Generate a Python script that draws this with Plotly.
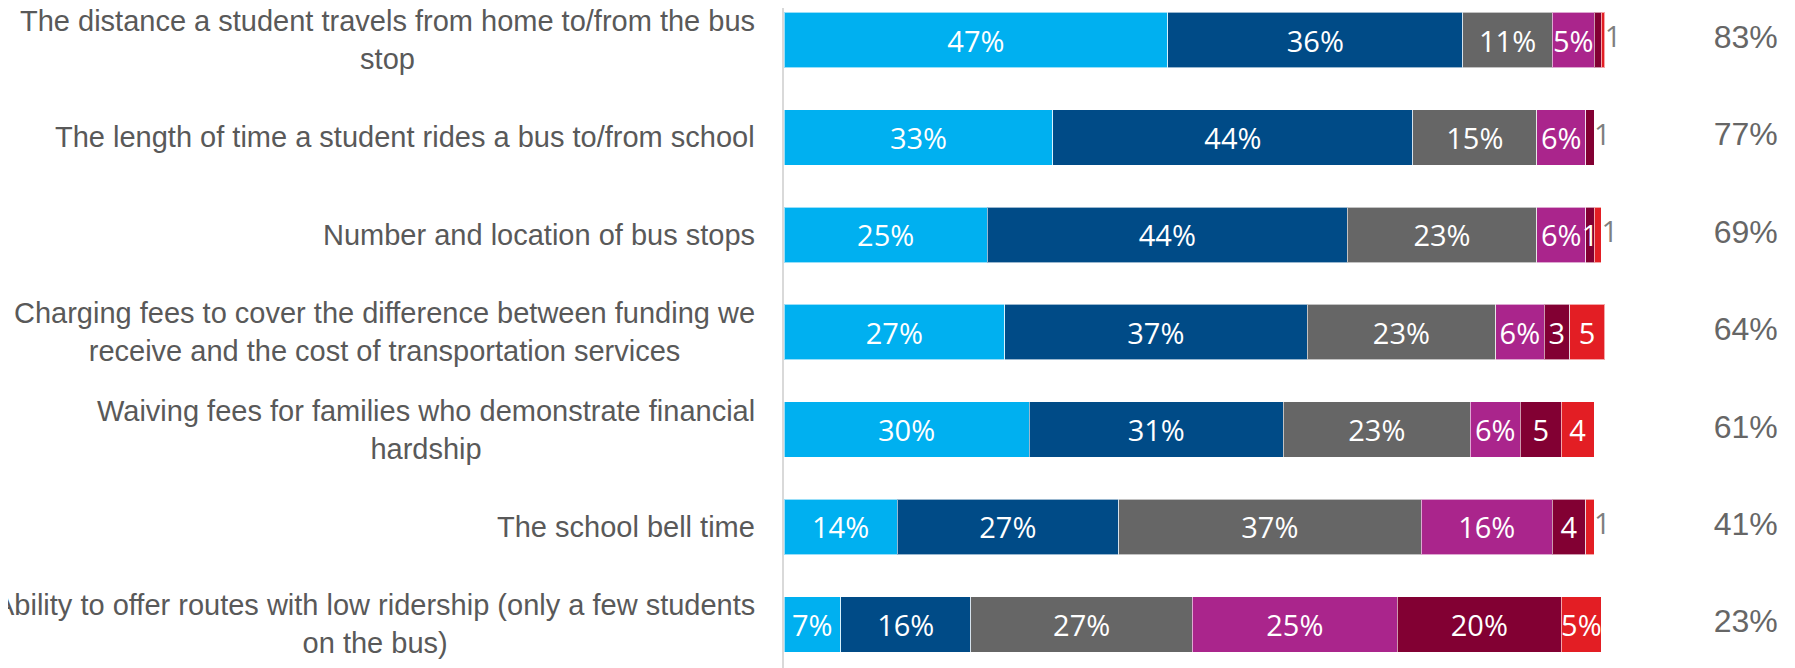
import plotly.graph_objects as go

# ── Data ──────────────────────────────────────────────────────────────────────
categories = [
    "The distance a student travels from home to/from the bus<br>stop",
    "The length of time a student rides a bus to/from school",
    "Number and location of bus stops",
    "Charging fees to cover the difference between funding we<br>receive and the cost of transportation services",
    "Waiving fees for families who demonstrate financial<br>hardship",
    "The school bell time",
    "Ability to offer routes with low ridership (only a few students<br>on the bus)",
]

seg_1 = [46.8, 32.8, 24.8, 26.9, 29.9, 13.8, 6.9]
seg_2 = [36.0, 43.9, 43.9, 36.9, 31.0, 27.0, 15.9]
seg_3 = [10.9, 15.1, 23.1, 23.0, 22.8, 36.9, 27.0]
seg_4 = [5.1, 6.0, 6.0, 5.9, 6.1, 16.0, 25.0]
seg_5 = [0.9, 1.0, 1.0, 3.1, 5.0, 4.1, 20.0]
seg_6 = [0.4, 0.0, 0.9, 4.3, 4.0, 1.0, 4.9]

lbl_1 = ["47%", "33%", "25%", "27%", "30%", "14%", "7%"]
lbl_2 = ["36%", "44%", "44%", "37%", "31%", "27%", "16%"]
lbl_3 = ["11%", "15%", "23%", "23%", "23%", "37%", "27%"]
lbl_4 = ["5%", "6%", "6%", "6%", "6%", "16%", "25%"]
lbl_5 = ["", "", "1", "3", "5", "4", "20%"]
lbl_6 = ["", "", "", "5", "4", "", "5%"]
outside_lbl = ["1", "1", "1", "", "", "1", ""]

totals = ["83%", "77%", "69%", "64%", "61%", "41%", "23%"]

colors = ["#00B0F0", "#004B87", "#666666", "#AA258C", "#820033", "#E31E24"]

# ── Figure ────────────────────────────────────────────────────────────────────
rows = list(range(len(categories)))
segments = [seg_1, seg_2, seg_3, seg_4, seg_5, seg_6]
labels = [lbl_1, lbl_2, lbl_3, lbl_4, lbl_5, lbl_6]

fig = go.Figure()
for vals, txt, col in zip(segments, labels, colors):
    fig.add_trace(go.Bar(
        x=vals, y=rows, orientation="h",
        marker=dict(color=col, line=dict(color="rgba(255,255,255,0.6)", width=1)),
        text=txt, textposition="inside", insidetextanchor="middle",
        textangle=0, constraintext="none",
        textfont=dict(family="Open Sans", size=29, color="white"),
        hoverinfo="skip", showlegend=False,
    ))

bar_ends = [sum(s[i] for s in segments) for i in rows]
fig.add_trace(go.Scatter(
    x=bar_ends, y=rows, mode="text", text=outside_lbl,
    textposition="middle right",
    textfont=dict(family="Open Sans", size=29, color="#7f7f7f"),
    hoverinfo="skip", showlegend=False,
))

fig.add_trace(go.Scatter(
    x=[117.3] * len(rows), y=rows, mode="text", text=totals,
    textposition="middle center",
    textfont=dict(family="Liberation Sans", size=32, color="#666666"),
    hoverinfo="skip", showlegend=False,
))

for i, cat in enumerate(categories):
    fig.add_annotation(
        x=0, xref="paper", y=i, yref="y", xshift=-27,
        xanchor="right", yanchor="middle", align="center",
        text=cat, showarrow=False,
        font=dict(family="Liberation Sans", size=29, color="#595959"),
    )

# page body has an 8px margin, so the figure is offset by that much
fig.update_layout(
    barmode="stack", bargap=0.43,
    width=1787, height=660,
    margin=dict(l=776, r=0, t=0, b=0),
    paper_bgcolor="white", plot_bgcolor="white",
    xaxis=dict(range=[0, 123.3], visible=False, fixedrange=True),
    yaxis=dict(range=[6.448, -0.329], showticklabels=False, showgrid=False,
               zeroline=False, showline=True, linecolor="#d9d9d9", linewidth=2),
)

fig.write_html("out.html")
